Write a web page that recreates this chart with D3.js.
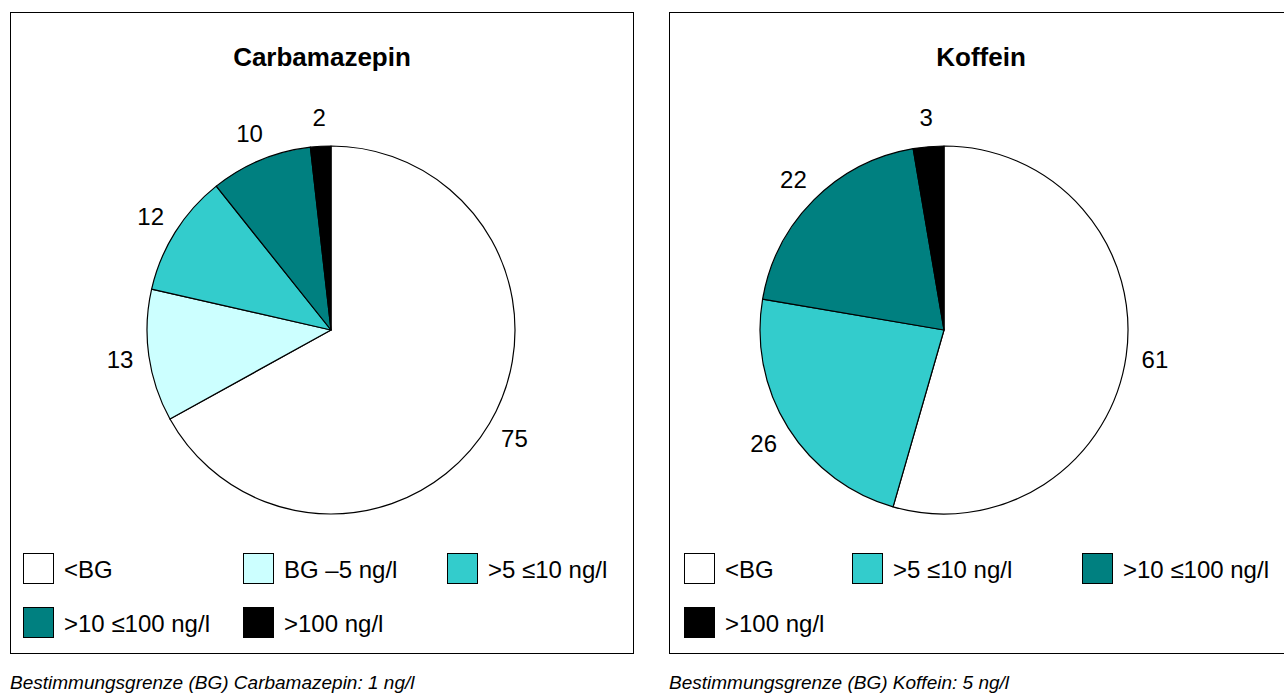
<!DOCTYPE html>
<html>
<head>
<meta charset="utf-8">
<script src="https://cdn.jsdelivr.net/npm/d3@7"></script>
<style>
  body { margin: 0; background: #fff; }
  svg { display: block; font-family: Arial, "Liberation Sans", sans-serif; }
</style>
</head>
<body>
<div id="chart"></div>
<script>
// data
var allCategories = ["<BG", "BG –5 ng/l", ">5 ≤10 ng/l", ">10 ≤100 ng/l", ">100 ng/l"];

var carbaCategories = ["<BG", "BG –5 ng/l", ">5 ≤10 ng/l", ">10 ≤100 ng/l", ">100 ng/l"];
var carbaValues = [75, 13, 12, 10, 2];

var koffeinCategories = ["<BG", ">5 ≤10 ng/l", ">10 ≤100 ng/l", ">100 ng/l"];
var koffeinValues = [61, 26, 22, 3];

var width = 1284, height = 693;

var color = d3.scaleOrdinal()
    .domain(allCategories)
    .range(["#ffffff", "#ccffff", "#33cccc", "#008080", "#000000"]);

var svg = d3.select("#chart").append("svg")
    .attr("width", width)
    .attr("height", height);

function drawPanel(title, categories, values, footer, left, pieX, legendCols) {
    var top = 12, panelW = 623, panelH = 641;
    var g = svg.append("g").attr("transform", "translate(" + left + "," + top + ")");

    g.append("rect")
        .attr("x", 0.5).attr("y", 0.5)
        .attr("width", panelW).attr("height", panelH)
        .attr("fill", "none")
        .attr("stroke", "#000")
        .attr("stroke-width", 1);

    g.append("text")
        .attr("x", panelW / 2 + 0.5)
        .attr("y", 54)
        .attr("text-anchor", "middle")
        .style("font-size", "26px")
        .style("font-weight", "bold")
        .text(title);

    var data = categories.map(function(c, i) { return { category: c, value: values[i] }; });

    var pie = d3.pie().sort(null).value(function(d) { return d.value; });
    var radius = 184;
    var arc = d3.arc().innerRadius(0).outerRadius(radius);
    var labelArc = d3.arc().innerRadius(213).outerRadius(213);

    var pieG = g.append("g")
        .attr("transform", "translate(" + pieX + "," + 318 + ")");

    var arcs = pie(data);

    pieG.selectAll("path")
        .data(arcs)
        .enter()
        .append("path")
        .attr("d", arc)
        .attr("fill", function(d) { return color(d.data.category); })
        .attr("stroke", "#000")
        .attr("stroke-width", 1.2)
        .attr("stroke-linejoin", "round");

    pieG.selectAll(".pie-label")
        .data(arcs)
        .enter()
        .append("text")
        .attr("class", "pie-label")
        .attr("transform", function(d) { return "translate(" + labelArc.centroid(d) + ")"; })
        .attr("text-anchor", "middle")
        .attr("dy", "0.36em")
        .style("font-size", "24px")
        .text(function(d) { return d.data.value; });

    // legend, three per row
    var legend = g.selectAll(".legend-item")
        .data(categories)
        .enter()
        .append("g")
        .attr("class", "legend-item")
        .attr("transform", function(d, i) {
            return "translate(" + legendCols[i % 3] + "," + (541 + Math.floor(i / 3) * 54) + ")";
        });

    legend.append("rect")
        .attr("x", 0.5).attr("y", 0.5)
        .attr("width", 30).attr("height", 30)
        .attr("fill", function(d) { return color(d); })
        .attr("stroke", "#000")
        .attr("stroke-width", 1);

    legend.append("text")
        .attr("x", 41)
        .attr("y", 16)
        .attr("dy", "0.36em")
        .style("font-size", "24px")
        .text(function(d) { return d; });

    svg.append("text")
        .attr("x", left)
        .attr("y", 689)
        .style("font-size", "19px")
        .style("font-style", "italic")
        .text(footer);
}

drawPanel("Carbamazepin", carbaCategories, carbaValues,
    "Bestimmungsgrenze (BG) Carbamazepin: 1 ng/l", 10, 321, [13, 233, 437]);

drawPanel("Koffein", koffeinCategories, koffeinValues,
    "Bestimmungsgrenze (BG) Koffein: 5 ng/l", 669, 275, [15, 183, 413]);
</script>
</body>
</html>
